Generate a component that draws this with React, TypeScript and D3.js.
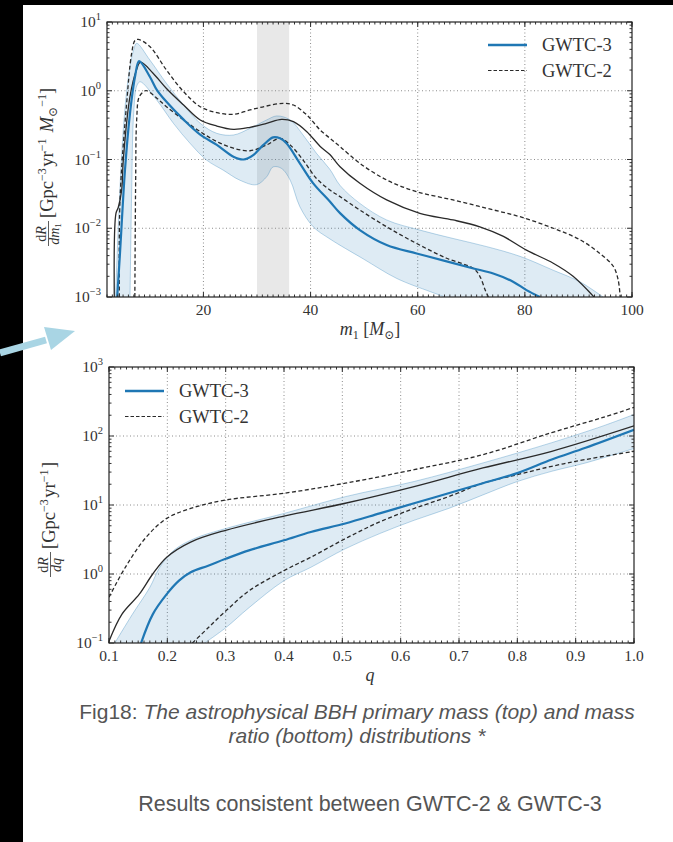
import React, { useEffect, useRef } from 'react';
import * as d3 from 'd3';

type Pt = [number, number];

const seriesNames = ['GWTC-3', 'GWTC-2'];

// primary mass panel (m1 in solar masses, rate in Gpc^-3 yr^-1 Msun^-1)
const massTicks = [20, 40, 60, 80, 100];
const massDecades = [-3, -2, -1, 0, 1];
const peakWindow = [30, 36];

const massG3Median: Pt[] = [
  [3.9, 0.001], [4.43, 0.0044], [5.36, 0.071], [6.29, 0.47], [7.23, 1.6], [8.0, 2.7],
  [10.0, 1.6], [11.3, 1.03], [13.1, 0.69], [16.3, 0.38], [19.4, 0.23], [22.5, 0.163],
  [25.6, 0.11], [27.5, 0.1], [29.3, 0.116], [31.2, 0.163], [33.0, 0.21], [34.3, 0.203],
  [35.5, 0.172], [38.0, 0.088], [40.5, 0.045], [43.6, 0.0245], [45.5, 0.0166], [49.2, 0.0094],
  [54.2, 0.0057], [59.8, 0.0043], [65.4, 0.0033], [70.4, 0.0026], [74.1, 0.0022],
  [77.8, 0.00167], [80.3, 0.00126], [82.8, 0.001],
];
const massG3Upper: Pt[] = [
  [3.6, 0.001], [4.2, 0.016], [5.0, 0.25], [6.0, 1.6], [7.0, 4.0], [7.54, 4.9], [10.0, 2.8],
  [13.1, 1.28], [16.3, 0.62], [19.4, 0.336], [22.5, 0.24], [25.6, 0.227], [28.7, 0.284],
  [31.8, 0.376], [33.7, 0.43], [36.2, 0.376], [38.6, 0.227], [41.1, 0.123], [43.6, 0.072],
  [45.5, 0.042], [49.2, 0.023], [54.2, 0.0132], [60.4, 0.0094], [66.6, 0.0071], [72.9, 0.0054],
  [79.1, 0.0039], [85.3, 0.00245], [90.3, 0.00166], [94.6, 0.001],
];
const massG3Lower: Pt[] = [
  [6.3, 0.001], [6.6, 0.032], [7.0, 0.5], [7.6, 1.2], [8.2, 1.35], [11.3, 0.73], [14.4, 0.336],
  [17.5, 0.172], [20.6, 0.098], [23.7, 0.07], [26.8, 0.05], [29.9, 0.043], [31.8, 0.056],
  [33.0, 0.078], [34.6, 0.074], [36.2, 0.05], [38.0, 0.0206], [40.5, 0.0105], [43.6, 0.007],
  [49.8, 0.0036], [56.1, 0.00186], [62.3, 0.0012], [65.1, 0.001],
];
const massG2Median: Pt[] = [
  [3.36, 0.001], [3.68, 0.0166], [4.1, 0.02], [4.74, 0.036], [5.04, 0.098], [6.29, 0.82],
  [7.5, 2.0], [8.26, 2.6], [10.6, 1.8], [13.1, 1.08], [16.3, 0.62], [19.4, 0.376], [22.5, 0.307],
  [25.6, 0.275], [28.7, 0.294], [31.8, 0.336], [34.6, 0.384], [36.8, 0.355], [39.3, 0.254],
  [41.8, 0.155], [43.6, 0.118], [45.5, 0.0785], [49.2, 0.045], [54.2, 0.0258], [60.4, 0.0165],
  [66.6, 0.0132], [71.6, 0.0105], [76.0, 0.0076], [80.3, 0.0048], [85.3, 0.0031], [89.0, 0.002],
  [92.9, 0.001],
];
const massG2Upper: Pt[] = [
  [4.3, 0.001], [4.43, 0.026], [5.67, 0.66], [6.6, 3.5], [7.23, 5.4], [7.8, 5.6], [10.0, 4.4],
  [13.1, 2.0], [16.3, 0.97], [19.4, 0.586], [22.5, 0.48], [25.6, 0.454], [28.7, 0.525],
  [31.8, 0.6], [34.9, 0.656], [36.8, 0.62], [39.3, 0.444], [41.8, 0.268], [43.6, 0.204],
  [45.5, 0.154], [49.2, 0.088], [54.2, 0.0504], [59.8, 0.034], [66.6, 0.0258], [72.9, 0.0195],
  [79.1, 0.0147], [85.3, 0.01], [90.3, 0.0068], [94.0, 0.0043], [96.5, 0.0028], [97.4, 0.0018],
  [97.8, 0.001],
];
const massG2Lower: Pt[] = [
  [7.2, 0.001], [7.35, 0.05], [7.54, 0.376], [8.03, 0.82], [9.1, 1.0], [9.5, 1.0], [11.3, 0.78],
  [13.1, 0.586], [16.3, 0.376], [19.4, 0.254], [22.5, 0.182], [25.6, 0.146], [28.7, 0.134],
  [31.8, 0.163], [34.3, 0.203], [36.2, 0.163], [38.6, 0.098], [41.1, 0.053], [43.6, 0.036],
  [45.5, 0.0288], [49.2, 0.0184], [54.2, 0.0105], [59.8, 0.006], [65.4, 0.00366], [70.4, 0.0026],
  [71.6, 0.002], [72.6, 0.00126], [73.2, 0.001],
];

// mass ratio panel (q, rate in Gpc^-3 yr^-1)
const ratioTicks = [0.1, 0.2, 0.3, 0.4, 0.5, 0.6, 0.7, 0.8, 0.9, 1.0];
const ratioDecades = [-1, 0, 1, 2, 3];

const ratioG3Median: Pt[] = [
  [0.155, 0.1], [0.175, 0.26], [0.199, 0.51], [0.22, 0.8], [0.24, 1.06], [0.27, 1.32],
  [0.3, 1.66], [0.34, 2.2], [0.4, 3.08], [0.446, 4.07], [0.505, 5.4], [0.564, 7.55],
  [0.623, 10.6], [0.682, 14.8], [0.741, 20.7], [0.8, 29], [0.859, 45.6], [0.917, 67.5], [1.0, 123],
];
const ratioG3Upper: Pt[] = [
  [0.11, 0.1], [0.14, 0.26], [0.17, 0.64], [0.187, 1.25], [0.211, 2.2], [0.246, 3.25],
  [0.3, 4.56], [0.4, 7.55], [0.505, 13.2], [0.623, 21.9], [0.741, 40.7], [0.859, 80],
  [0.947, 140], [1.0, 205],
];
const ratioG3Lower: Pt[] = [
  [0.264, 0.1], [0.3, 0.166], [0.34, 0.325], [0.4, 0.8], [0.446, 1.25], [0.505, 2.32],
  [0.564, 3.85], [0.623, 6.0], [0.682, 8.9], [0.741, 14], [0.8, 21.9], [0.859, 30.8],
  [0.917, 40.7], [1.0, 66],
];
const ratioG2Median: Pt[] = [
  [0.1, 0.106], [0.122, 0.26], [0.152, 0.51], [0.175, 1.0], [0.199, 1.75], [0.24, 2.9],
  [0.3, 4.3], [0.4, 6.9], [0.505, 10.6], [0.623, 18.5], [0.741, 34.4], [0.859, 60], [1.0, 140],
];
const ratioG2Upper: Pt[] = [
  [0.1, 0.46], [0.128, 1.25], [0.164, 3.44], [0.199, 6.4], [0.24, 8.9], [0.3, 11.8],
  [0.4, 14.8], [0.505, 20.7], [0.623, 32.5], [0.741, 53.7], [0.859, 112], [0.947, 186], [1.0, 260],
];
const ratioG2Lower: Pt[] = [
  [0.243, 0.1], [0.27, 0.166], [0.3, 0.29], [0.34, 0.57], [0.4, 1.12], [0.446, 1.75],
  [0.505, 3.25], [0.564, 5.7], [0.623, 8.9], [0.682, 13.2], [0.741, 20.7], [0.8, 27.5],
  [0.859, 36.4], [0.917, 45.6], [1.0, 60],
];

const BLUE = '#1f77b4';
const INK = '#2a2a2a';
const SERIF = '"Liberation Serif", "DejaVu Serif", serif';
const SANS = '"Liberation Sans", Arial, sans-serif';

function drawPanel(svg: any, p: any) {
  const x = d3.scaleLinear().domain(p.xDomain).range([p.left, p.right]);
  const y = d3.scaleLog()
    .domain([10 ** p.decades[0], 10 ** p.decades[p.decades.length - 1]])
    .range([p.bottom, p.top]);

  svg.append('clipPath').attr('id', p.id)
    .append('rect')
    .attr('x', p.left).attr('y', p.top)
    .attr('width', p.right - p.left).attr('height', p.bottom - p.top);

  const plot = svg.append('g').attr('clip-path', `url(#${p.id})`);

  if (p.highlight) {
    plot.append('rect')
      .attr('x', x(p.highlight[0])).attr('y', p.top)
      .attr('width', x(p.highlight[1]) - x(p.highlight[0]))
      .attr('height', p.bottom - p.top)
      .attr('fill', '#e8e8e8');
  }

  // dotted grid
  const grid = plot.append('g')
    .attr('stroke', '#8c8c8c').attr('stroke-width', 1).attr('stroke-dasharray', '1,2.5');
  const [d0, d1] = p.xDomain;
  p.xTicks.filter((v: number) => v > d0 + 1e-9 && v < d1 - 1e-9).forEach((v: number) => {
    grid.append('line').attr('x1', x(v)).attr('x2', x(v)).attr('y1', p.top).attr('y2', p.bottom);
  });
  p.decades.slice(1, -1).forEach((d: number) => {
    grid.append('line').attr('x1', p.left).attr('x2', p.right).attr('y1', y(10 ** d)).attr('y2', y(10 ** d));
  });

  const line = d3.line<Pt>()
    .x(d => x(d[0]))
    .y(d => y(d[1]))
    .curve(d3.curveCatmullRom.alpha(0.5));

  // GWTC-3 90% band
  const upperPath = line(p.g3Upper) as string;
  const lowerPath = (line(p.g3Lower.slice().reverse()) as string).replace(/^M/, 'L');
  plot.append('path')
    .attr('d', upperPath + lowerPath + 'Z')
    .attr('fill', BLUE).attr('fill-opacity', 0.15);
  [p.g3Upper, p.g3Lower].forEach((s: Pt[]) => {
    plot.append('path').attr('d', line(s))
      .attr('fill', 'none').attr('stroke', BLUE).attr('stroke-opacity', 0.3).attr('stroke-width', 1);
  });

  // GWTC-2 median and bounds
  plot.append('path').attr('d', line(p.g2Median))
    .attr('fill', 'none').attr('stroke', INK).attr('stroke-width', 1.3);
  [p.g2Upper, p.g2Lower].forEach((s: Pt[]) => {
    plot.append('path').attr('d', line(s))
      .attr('fill', 'none').attr('stroke', INK).attr('stroke-width', 1.3)
      .attr('stroke-dasharray', '4,2.5');
  });

  // GWTC-3 median
  plot.append('path').attr('d', line(p.g3Median))
    .attr('fill', 'none').attr('stroke', BLUE).attr('stroke-width', 2.2);

  // ticks, inward on every side
  const ax = svg.append('g').attr('stroke', '#333').attr('stroke-width', 1);
  p.xTicks.forEach((v: number) => {
    ax.append('line').attr('x1', x(v)).attr('x2', x(v)).attr('y1', p.bottom).attr('y2', p.bottom - 5);
    ax.append('line').attr('x1', x(v)).attr('x2', x(v)).attr('y1', p.top).attr('y2', p.top + 5);
  });
  d3.range(d0, d1 + p.minorStep / 2, p.minorStep).forEach((v: number) => {
    ax.append('line').attr('x1', x(v)).attr('x2', x(v)).attr('y1', p.bottom).attr('y2', p.bottom - 2.5);
    ax.append('line').attr('x1', x(v)).attr('x2', x(v)).attr('y1', p.top).attr('y2', p.top + 2.5);
  });
  p.decades.forEach((d: number, i: number) => {
    const yy = y(10 ** d);
    ax.append('line').attr('x1', p.left).attr('x2', p.left + 5).attr('y1', yy).attr('y2', yy);
    ax.append('line').attr('x1', p.right).attr('x2', p.right - 5).attr('y1', yy).attr('y2', yy);
    if (i < p.decades.length - 1) {
      d3.range(2, 10).forEach(k => {
        const ym = y(k * 10 ** d);
        ax.append('line').attr('x1', p.left).attr('x2', p.left + 2.5).attr('y1', ym).attr('y2', ym);
        ax.append('line').attr('x1', p.right).attr('x2', p.right - 2.5).attr('y1', ym).attr('y2', ym);
      });
    }
  });

  svg.append('rect')
    .attr('x', p.left).attr('y', p.top)
    .attr('width', p.right - p.left).attr('height', p.bottom - p.top)
    .attr('fill', 'none').attr('stroke', '#222').attr('stroke-width', 1.2);

  // tick labels
  const lab = svg.append('g').attr('font-family', SERIF).attr('fill', '#333');
  p.xTicks.forEach((v: number) => {
    lab.append('text')
      .attr('x', x(v)).attr('y', p.bottom + 18)
      .attr('text-anchor', 'middle').attr('font-size', 15.5)
      .text(p.xFormat(v));
  });
  p.decades.forEach((d: number) => {
    const t = lab.append('text')
      .attr('x', p.left - 6).attr('y', y(10 ** d) + 5)
      .attr('text-anchor', 'end').attr('font-size', 15.5);
    t.append('tspan').text('10');
    t.append('tspan').attr('dy', -7).attr('font-size', 10.5)
      .text(d < 0 ? '\u2212' + Math.abs(d) : String(d));
  });

  // legend
  const lg = svg.append('g').attr('font-family', SERIF).attr('fill', '#333');
  const [lx, ly] = p.legend;
  seriesNames.forEach((name, i) => {
    const yy = ly + i * 25.5;
    lg.append('line')
      .attr('x1', lx).attr('x2', lx + 39).attr('y1', yy).attr('y2', yy)
      .attr('stroke', i === 0 ? BLUE : INK)
      .attr('stroke-width', i === 0 ? 2.4 : 1.1)
      .attr('stroke-dasharray', i === 0 ? null : '3.5,2');
    lg.append('text').attr('x', lx + 54).attr('y', yy + 6).attr('font-size', 18.5).text(name);
  });
}

export default function App() {
  const ref = useRef<SVGSVGElement>(null);

  useEffect(() => {
    const svg = d3.select(ref.current);
    svg.selectAll('*').remove();

    // photo background: dark slide with white figure card
    svg.append('rect').attr('width', 673).attr('height', 842).attr('fill', '#000');
    svg.append('rect').attr('x', 23).attr('y', 5).attr('width', 650).attr('height', 837).attr('fill', '#fff');

    // slide arrow pointing at the figure
    svg.append('line')
      .attr('x1', 0).attr('y1', 353).attr('x2', 46).attr('y2', 340)
      .attr('stroke', '#a9d5e4').attr('stroke-width', 7);
    svg.append('polygon')
      .attr('points', '75,331 51,350 44,327')
      .attr('fill', '#a9d5e4');

    drawPanel(svg, {
      id: 'clip-mass',
      left: 107, right: 632, top: 22, bottom: 297,
      xDomain: [2, 100],
      xTicks: massTicks,
      minorStep: 1,
      xFormat: (v: number) => String(v),
      decades: massDecades,
      highlight: peakWindow,
      g3Median: massG3Median, g3Upper: massG3Upper, g3Lower: massG3Lower,
      g2Median: massG2Median, g2Upper: massG2Upper, g2Lower: massG2Lower,
      legend: [488, 45],
    });

    drawPanel(svg, {
      id: 'clip-ratio',
      left: 109, right: 634, top: 367, bottom: 643,
      xDomain: [0.1, 1.0],
      xTicks: ratioTicks,
      minorStep: 0.01,
      xFormat: d3.format('.1f'),
      decades: ratioDecades,
      g3Median: ratioG3Median, g3Upper: ratioG3Upper, g3Lower: ratioG3Lower,
      g2Median: ratioG2Median, g2Upper: ratioG2Upper, g2Lower: ratioG2Lower,
      legend: [125, 391],
    });

    const txt = svg.append('g').attr('font-family', SERIF).attr('fill', '#333');

    // x axis titles
    const xm = txt.append('text').attr('x', 370).attr('y', 335).attr('text-anchor', 'middle').attr('font-size', 18);
    xm.append('tspan').attr('font-style', 'italic').text('m');
    xm.append('tspan').attr('font-size', 12).attr('dy', 4).text('1');
    xm.append('tspan').attr('dy', -4).text(' [');
    xm.append('tspan').attr('font-style', 'italic').text('M');
    xm.append('tspan').attr('font-size', 12).attr('dy', 4).text('\u2299');
    xm.append('tspan').attr('dy', -4).text(']');

    txt.append('text').attr('x', 370).attr('y', 681).attr('text-anchor', 'middle')
      .attr('font-size', 18).attr('font-style', 'italic').text('q');

    // y axis titles (rotated)
    const yTitle = (tx: number, ty: number, den: string, unit: (t: any) => void) => {
      const g = txt.append('g').attr('transform', `translate(${tx},${ty}) rotate(-90)`);
      const num = g.append('text').attr('x', 13).attr('y', -7.5).attr('text-anchor', 'middle').attr('font-size', 14);
      num.append('tspan').text('d');
      num.append('tspan').attr('font-style', 'italic').text('R');
      g.append('line').attr('x1', 1).attr('x2', 26).attr('y1', -4.5).attr('y2', -4.5)
        .attr('stroke', '#333').attr('stroke-width', 0.8);
      const dn = g.append('text').attr('x', 13).attr('y', 6).attr('text-anchor', 'middle').attr('font-size', 14);
      dn.append('tspan').attr('font-style', 'italic').text('d' + den[0]);
      if (den.length > 1) dn.append('tspan').attr('font-size', 9).attr('dy', 2).text(den.slice(1));
      const t = g.append('text').attr('x', 29).attr('y', 0).attr('font-size', 18.5);
      unit(t);
    };
    const sup = (t: any, s: string) => {
      t.append('tspan').attr('dy', -7.5).attr('font-size', 12).text(s);
      t.append('tspan').attr('dy', 7.5).text('\u200a');
    };
    yTitle(53, 247, 'm1', (t: any) => {
      t.append('tspan').text('[Gpc');
      sup(t, '\u22123');
      t.append('tspan').text('yr');
      sup(t, '\u22121');
      t.append('tspan').attr('font-style', 'italic').text(' M');
      t.append('tspan').attr('dy', 4).attr('font-size', 12).text('\u2299');
      t.append('tspan').attr('dy', -11.5).attr('font-size', 12).text('\u22121');
      t.append('tspan').attr('dy', 7.5).text(']');
    });
    yTitle(55, 578, 'q', (t: any) => {
      t.append('tspan').text('[Gpc');
      sup(t, '\u22123');
      t.append('tspan').text('yr');
      sup(t, '\u22121');
      t.append('tspan').text(']');
    });

    // caption
    const cap = svg.append('g').attr('font-family', SANS).attr('fill', '#555').attr('text-anchor', 'middle');
    const c1 = cap.append('text').attr('x', 357).attr('y', 719).attr('font-size', 21);
    c1.append('tspan').text('Fig18: ');
    c1.append('tspan').attr('font-style', 'italic').text('The astrophysical BBH primary mass (top) and mass');
    cap.append('text').attr('x', 357).attr('y', 743).attr('font-size', 21)
      .attr('font-style', 'italic').text('ratio (bottom) distributions *');
    cap.append('text').attr('x', 370).attr('y', 811).attr('font-size', 21.5)
      .text('Results consistent between GWTC-2 & GWTC-3');
  }, []);

  return (
    <svg
      ref={ref}
      width={673}
      height={842}
      style={{ position: 'absolute', left: 0, top: 0, display: 'block' }}
    />
  );
}
